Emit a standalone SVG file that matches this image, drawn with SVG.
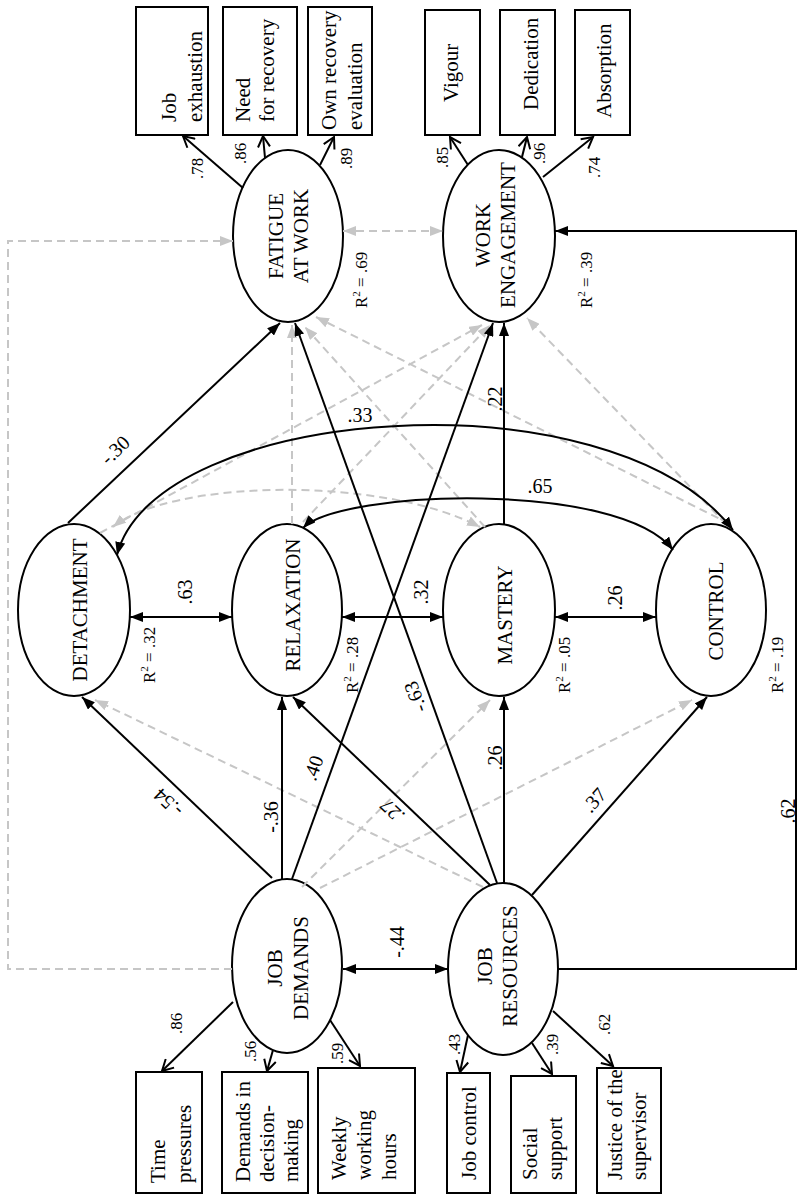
<svg xmlns="http://www.w3.org/2000/svg" width="798" height="1204" viewBox="0 0 798 1204">
<style>
text{font-family:"Liberation Serif","Times New Roman",serif;fill:#000}
.lat{font-size:21px;text-anchor:middle}
.box{font-size:21px}
.ld{font-size:17px}
.pl{font-size:20px;text-anchor:middle}
.r2{font-size:17px}
ellipse,rect{fill:#fff;stroke:#000;stroke-width:2}
.s{fill:none;stroke:#000;stroke-width:2}
.d{fill:none;stroke:#c6c6c6;stroke-width:2;stroke-dasharray:8 5}
</style>
<defs>
<marker id="ab" markerUnits="userSpaceOnUse" viewBox="0 0 14 10" markerWidth="14" markerHeight="10" refX="13" refY="5" orient="auto-start-reverse"><path d="M0,0 L13,5 L0,10 z" fill="#000"/></marker>
<marker id="ag" markerUnits="userSpaceOnUse" viewBox="0 0 14 10" markerWidth="14" markerHeight="10" refX="13" refY="5" orient="auto-start-reverse"><path d="M0,0 L13,5 L0,10 z" fill="#c6c6c6"/></marker>
<marker id="ao" markerUnits="userSpaceOnUse" viewBox="0 0 14 14" markerWidth="14" markerHeight="14" refX="12" refY="7" orient="auto"><path d="M1,1 L12,7 L1,13" fill="none" stroke="#000" stroke-width="2"/></marker>
</defs>

<!-- indicator boxes -->
<g id="ind-job-exhaustion"><rect x="136" y="7" width="72" height="128"/><text class="box" transform="translate(176,122) rotate(-90)"><tspan x="0" y="0">Job</tspan><tspan x="0" y="26">exhaustion</tspan></text></g>
<g id="ind-need-recovery"><rect x="223" y="7" width="74" height="128"/><text class="box" transform="translate(250,122) rotate(-90)"><tspan x="0" y="0">Need</tspan><tspan x="0" y="24">for recovery</tspan></text></g>
<g id="ind-own-recovery"><rect x="308" y="7" width="64" height="128"/><text class="box" transform="translate(336,130) rotate(-90)"><tspan x="0" y="0">Own recovery</tspan><tspan x="0" y="26">evaluation</tspan></text></g>
<g id="ind-vigour"><rect x="425" y="10" width="55" height="125"/><text class="box" transform="translate(458,102) rotate(-90)">Vigour</text></g>
<g id="ind-dedication"><rect x="500" y="10" width="55" height="125"/><text class="box" transform="translate(538,110) rotate(-90)">Dedication</text></g>
<g id="ind-absorption"><rect x="575" y="10" width="55" height="125"/><text class="box" transform="translate(611,118) rotate(-90)">Absorption</text></g>

<g id="ind-time-pressures"><rect x="136" y="1072" width="66" height="121"/><text class="box" transform="translate(165,1183) rotate(-90)"><tspan x="0" y="0">Time</tspan><tspan x="0" y="26">pressures</tspan></text></g>
<g id="ind-demands-decision"><rect x="222" y="1072" width="86" height="121"/><text class="box" transform="translate(250,1182) rotate(-90)"><tspan x="0" y="0">Demands in</tspan><tspan x="0" y="24">decision-</tspan><tspan x="0" y="48">making</tspan></text></g>
<g id="ind-weekly-hours"><rect x="318" y="1068" width="97" height="125"/><text class="box" transform="translate(346,1180) rotate(-90)"><tspan x="0" y="0">Weekly</tspan><tspan x="0" y="25">working</tspan><tspan x="0" y="50">hours</tspan></text></g>
<g id="ind-job-control"><rect x="447" y="1073" width="43" height="120"/><text class="box" transform="translate(476,1180) rotate(-90)">Job control</text></g>
<g id="ind-social-support"><rect x="511" y="1076" width="65" height="117"/><text class="box" transform="translate(537,1180) rotate(-90)"><tspan x="0" y="0">Social</tspan><tspan x="0" y="25">support</tspan></text></g>
<g id="ind-justice"><rect x="597" y="1068" width="64" height="125"/><text class="box" transform="translate(622,1180) rotate(-90)"><tspan x="0" y="0">Justice of the</tspan><tspan x="0" y="24">supervisor</tspan></text></g>

<!-- latent nodes -->
<g id="fatigue"><ellipse cx="288" cy="236" rx="55" ry="86"/><text class="lat" transform="translate(283,236) rotate(-90)"><tspan x="0" y="0">FATIGUE</tspan><tspan x="0" y="25">AT WORK</tspan></text><text class="r2" transform="translate(367,308) rotate(-90)">R<tspan font-size="11" dy="-7">2</tspan><tspan dy="7"> = .69</tspan></text></g>
<g id="work-engagement"><ellipse cx="499" cy="236" rx="56" ry="86"/><text class="lat" transform="translate(490,235) rotate(-90)"><tspan x="0" y="0">WORK</tspan><tspan x="0" y="25">ENGAGEMENT</tspan></text><text class="r2" transform="translate(592,308) rotate(-90)">R<tspan font-size="11" dy="-7">2</tspan><tspan dy="7"> = .39</tspan></text></g>
<g id="detachment"><ellipse cx="74" cy="610" rx="56" ry="86"/><text class="lat" transform="translate(87,610) rotate(-90)">DETACHMENT</text><text class="r2" transform="translate(155,683) rotate(-90)">R<tspan font-size="11" dy="-7">2</tspan><tspan dy="7"> = .32</tspan></text></g>
<g id="relaxation"><ellipse cx="287" cy="610" rx="55" ry="86"/><text class="lat" transform="translate(300,605) rotate(-90)">RELAXATION</text><text class="r2" transform="translate(358,693) rotate(-90)">R<tspan font-size="11" dy="-7">2</tspan><tspan dy="7"> = .28</tspan></text></g>
<g id="mastery"><ellipse cx="499" cy="610" rx="56" ry="86"/><text class="lat" transform="translate(512,615) rotate(-90)">MASTERY</text><text class="r2" transform="translate(570,693) rotate(-90)">R<tspan font-size="11" dy="-7">2</tspan><tspan dy="7"> = .05</tspan></text></g>
<g id="control"><ellipse cx="711" cy="610" rx="55" ry="86"/><text class="lat" transform="translate(723,611) rotate(-90)">CONTROL</text><text class="r2" transform="translate(783,693) rotate(-90)">R<tspan font-size="11" dy="-7">2</tspan><tspan dy="7"> = .19</tspan></text></g>
<g id="job-demands"><ellipse cx="287" cy="966" rx="55" ry="87"/><text class="lat" transform="translate(282,968) rotate(-90)"><tspan x="0" y="0">JOB</tspan><tspan x="0" y="26">DEMANDS</tspan></text></g>
<g id="job-resources"><ellipse cx="503" cy="969" rx="55" ry="86"/><text class="lat" transform="translate(492,966) rotate(-90)"><tspan x="0" y="0">JOB</tspan><tspan x="0" y="25">RESOURCES</tspan></text></g>

<!-- connectors -->
<g id="connectors">
  <g id="nonsig">
    <path class="d" d="M232,969 H8 V241 H233" marker-end="url(#ag)"/>
    <line class="d" x1="343" y1="231" x2="443" y2="231" marker-start="url(#ag)" marker-end="url(#ag)"/>
    <line class="d" x1="483" y1="887" x2="95" y2="700" marker-end="url(#ag)"/>
    <line class="d" x1="302" y1="887" x2="490" y2="700" marker-end="url(#ag)"/>
    <line class="d" x1="320" y1="888" x2="692" y2="700" marker-end="url(#ag)"/>
    <line class="d" x1="292" y1="524" x2="292" y2="325" marker-end="url(#ag)"/>
    <line class="d" x1="485" y1="527" x2="305" y2="327" marker-end="url(#ag)"/>
    <line class="d" x1="730" y1="524" x2="316" y2="317" marker-end="url(#ag)"/>
    <line class="d" x1="100" y1="533" x2="482" y2="325" marker-end="url(#ag)"/>
    <line class="d" x1="303" y1="522" x2="490" y2="325" marker-end="url(#ag)"/>
    <line class="d" x1="726" y1="524" x2="527" y2="318" marker-end="url(#ag)"/>
    <path class="d" d="M113,527 C170,480 380,475 480,527" marker-start="url(#ag)" marker-end="url(#ag)"/>
  </g>
  <g id="loadings">
    <line class="s" x1="243" y1="188" x2="183" y2="136" marker-end="url(#ao)"/>
    <line class="s" x1="265" y1="158" x2="263" y2="136" marker-end="url(#ao)"/>
    <line class="s" x1="320" y1="165" x2="334" y2="137" marker-end="url(#ao)"/>
    <line class="s" x1="468" y1="165" x2="450" y2="137" marker-end="url(#ao)"/>
    <line class="s" x1="522" y1="157" x2="527" y2="137" marker-end="url(#ao)"/>
    <line class="s" x1="543" y1="177" x2="593" y2="137" marker-end="url(#ao)"/>
    <line class="s" x1="233" y1="1002" x2="162" y2="1071" marker-end="url(#ao)"/>
    <line class="s" x1="273" y1="1050" x2="267" y2="1071" marker-end="url(#ao)"/>
    <line class="s" x1="330" y1="1020" x2="360" y2="1066" marker-end="url(#ao)"/>
    <line class="s" x1="468" y1="1035" x2="460" y2="1072" marker-end="url(#ao)"/>
    <line class="s" x1="532" y1="1043" x2="552" y2="1074" marker-end="url(#ao)"/>
    <line class="s" x1="553" y1="1011" x2="613" y2="1066" marker-end="url(#ao)"/>
    <text class="ld" transform="translate(203,179) rotate(-90)">.78</text>
    <text class="ld" transform="translate(246,164) rotate(-90)">.86</text>
    <text class="ld" transform="translate(352,169) rotate(-90)">.89</text>
    <text class="ld" transform="translate(448,168) rotate(-90)">.85</text>
    <text class="ld" transform="translate(545,164) rotate(-90)">.96</text>
    <text class="ld" transform="translate(600,178) rotate(-90)">.74</text>
    <text class="ld" transform="translate(182,1034) rotate(-90)">.86</text>
    <text class="ld" transform="translate(256,1062) rotate(-90)">.56</text>
    <text class="ld" transform="translate(343,1064) rotate(-90)">.59</text>
    <text class="ld" transform="translate(460,1055) rotate(-90)">.43</text>
    <text class="ld" transform="translate(558,1055) rotate(-90)">.39</text>
    <text class="ld" transform="translate(610,1035) rotate(-90)">.62</text>
  </g>
  <g id="paths">
    <line class="s" x1="68" y1="523" x2="280" y2="323" marker-end="url(#ab)"/>
    <line class="s" x1="497" y1="883" x2="295" y2="323" marker-end="url(#ab)"/>
    <line class="s" x1="272" y1="878" x2="82" y2="697" marker-end="url(#ab)"/>
    <line class="s" x1="282" y1="879" x2="282" y2="697" marker-end="url(#ab)"/>
    <line class="s" x1="292" y1="879" x2="493" y2="323" marker-end="url(#ab)"/>
    <line class="s" x1="490" y1="885" x2="293" y2="697" marker-end="url(#ab)"/>
    <line class="s" x1="504" y1="883" x2="504" y2="697" marker-end="url(#ab)"/>
    <line class="s" x1="532" y1="895" x2="707" y2="697" marker-end="url(#ab)"/>
    <path class="s" d="M558,969 H796 V231 H555" marker-end="url(#ab)"/>
    <line class="s" x1="504" y1="524" x2="504" y2="323" marker-end="url(#ab)"/>
    <line class="s" x1="343" y1="969" x2="448" y2="969" marker-start="url(#ab)" marker-end="url(#ab)"/>
    <line class="s" x1="130" y1="617" x2="232" y2="617" marker-start="url(#ab)" marker-end="url(#ab)"/>
    <line class="s" x1="342" y1="617" x2="443" y2="617" marker-start="url(#ab)" marker-end="url(#ab)"/>
    <line class="s" x1="555" y1="617" x2="656" y2="617" marker-start="url(#ab)" marker-end="url(#ab)"/>
    <path class="s" d="M303,528 C340,490 620,480 673,550" marker-start="url(#ab)" marker-end="url(#ab)"/>
    <path class="s" d="M117,555 C155,405 610,370 733,530" marker-start="url(#ab)" marker-end="url(#ab)"/>
    <text class="pl" transform="translate(115,450) rotate(-43.5)" y="7">-.30</text>
    <text class="pl" transform="translate(168,803) rotate(-136.4)" y="7">-.54</text>
    <text class="pl" transform="translate(271,817) rotate(-90)" y="7">-.36</text>
    <text class="pl" transform="translate(313,768) rotate(-70.4)" y="7">.40</text>
    <text class="pl" transform="translate(392,811) rotate(-136.5)" y="7">.27</text>
    <text class="pl" transform="translate(415,697) rotate(-110)" y="7">-.63</text>
    <text class="pl" transform="translate(495,758) rotate(-90)" y="7">.26</text>
    <text class="pl" transform="translate(594,800) rotate(-48.5)" y="7">.37</text>
    <text class="pl" transform="translate(788,811) rotate(-90)" y="7">.62</text>
    <text class="pl" transform="translate(495,399) rotate(-90)" y="7">.22</text>
    <text class="pl" transform="translate(404,942) rotate(-90)">-.44</text>
    <text class="pl" transform="translate(192,592) rotate(-90)">.63</text>
    <text class="pl" transform="translate(428,592) rotate(-90)">.32</text>
    <text class="pl" transform="translate(622,598) rotate(-90)">.26</text>
    <text class="pl" x="540" y="493">.65</text>
    <text class="pl" x="360" y="422">.33</text>
  </g>
</g>
</svg>
